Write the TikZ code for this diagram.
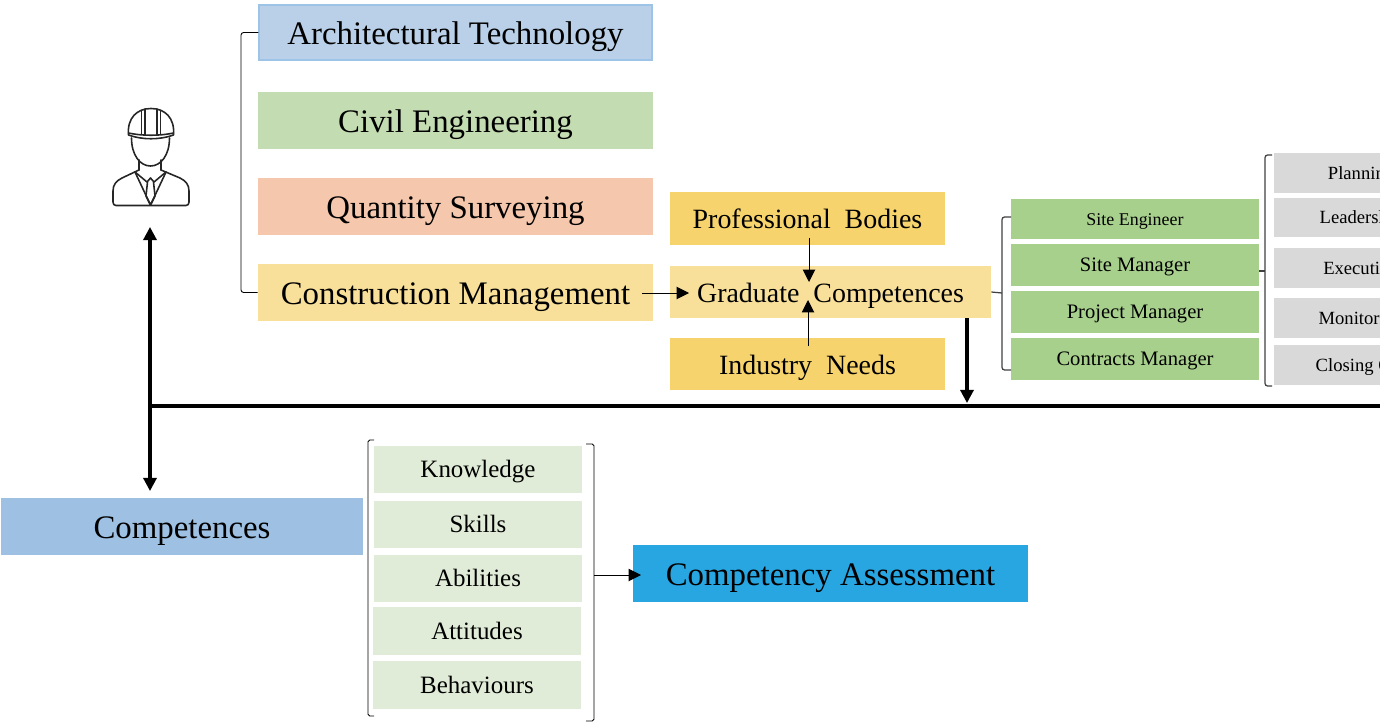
\documentclass[tikz,border=0pt]{standalone}
\usepackage{fontspec}
\setmainfont{Liberation Serif}
\usetikzlibrary{arrows.meta}
\definecolor{cablue}{HTML}{B9D0E8}
\definecolor{caborder}{HTML}{9DC3E6}
\definecolor{cagreen}{HTML}{C3DCB1}
\definecolor{casalmon}{HTML}{F5C7AC}
\definecolor{cacream}{HTML}{F8E09B}
\definecolor{cagold}{HTML}{F6D36C}
\definecolor{carole}{HTML}{A8D08D}
\definecolor{cagrey}{HTML}{D9D9D9}
\definecolor{casteel}{HTML}{9DC0E3}
\definecolor{capale}{HTML}{E0ECD7}
\definecolor{casky}{HTML}{27A6E1}
\definecolor{caink}{HTML}{262626}
\definecolor{cabrace}{HTML}{404040}
\tikzset{
  cabox/.style={
    inner sep=0pt, text=black, text height=19.2pt, text depth=5pt,
    font=\fontsize{18.7}{22}\selectfont},
  cahead/.style={cabox, text height=15.95pt, text depth=4pt,
    font=\fontsize{15.9}{20}\selectfont},
  caitem/.style={cabox, fill=capale, minimum width=4.16cm, minimum height=0.94cm,
    text height=12.67pt, text depth=3pt, font=\fontsize{14.2}{16}\selectfont},
  carolebox/.style={cabox, fill=carole, minimum width=4.96cm,
    text height=10.24pt, text depth=2.5pt, font=\fontsize{11.7}{14}\selectfont},
  cataskbox/.style={cabox, fill=cagrey, minimum width=3.48cm,
    text height=9.55pt, text depth=2.5pt, font=\fontsize{10.6}{14}\selectfont},
  cathin/.style={-{Triangle[length=7pt,width=7pt]}, draw=black, line width=0.55pt},
  cathick/.style={-{Triangle[length=7.5pt,width=7.5pt]}, draw=black, line width=1.75pt},
  cabrack/.style={draw=black, line width=0.5pt, rounded corners=1.5pt},
  caicon/.style={draw=caink, line width=0.9pt, line cap=round, line join=round},
}
\begin{document}
\begin{tikzpicture}[x=0.02cm, y=-0.02cm]

\useasboundingbox (0, 0) rectangle (1380, 723);
\clip (0, 0) rectangle (1380, 723);

% Programmes.
\node[cabox, fill=cablue, draw=caborder, line width=0.7pt, minimum width=7.86cm,
      minimum height=1.1cm] (archtech) at (455.5, 32.5) {Architectural Technology};
\node[cabox, fill=cagreen, minimum width=7.9cm, minimum height=1.14cm]
  (civil) at (455.5, 120.5) {Civil Engineering};
\node[cabox, fill=casalmon, minimum width=7.9cm, minimum height=1.14cm]
  (quantity) at (455.5, 206.5) {Quantity Surveying};
\node[cabox, fill=cacream, minimum width=7.9cm, minimum height=1.14cm]
  (construction) at (455.5, 292.5) {Construction Management};
\coordinate (progbrack) at (241, 160);
\draw[cabrack] (archtech.west) -| (progbrack) |- (construction.west);

% Worker.
\begin{scope}[caicon]
  \draw (128.5, 135) .. controls (127, 118) and (137, 108.5) .. (151, 108.5)
    .. controls (165, 108.5) and (175, 118) .. (173.5, 135)
    .. controls (160, 140) and (142, 140) .. (128.5, 135) -- cycle;
  \draw (128.5, 133) .. controls (142, 136) and (160, 136) .. (173.5, 133);
  \draw (141.5, 111) -- (141.5, 134) (145, 109) -- (145, 135);
  \draw (157, 109) -- (157, 135) (160.5, 111) -- (160.5, 134);
  \draw (131.5, 138) .. controls (131.5, 155) and (140, 166) .. (150.5, 166)
    .. controls (161, 166) and (169.5, 155) .. (169.5, 138);
  \draw (139, 160) -- (139, 170) (161, 160) -- (161, 170);
  \draw (139, 170) -- (122, 178) .. controls (116, 181) and (113, 185) .. (113, 191)
    -- (113, 202) .. controls (113, 204) and (114, 205.5) .. (116, 205.5) -- (186, 205.5)
    .. controls (188, 205.5) and (189, 204) .. (189, 202) -- (189, 191)
    .. controls (189, 185) and (186, 181) .. (180, 178) -- (161, 170);
  \draw (135, 172) -- (150.5, 205) -- (166, 172);
  \draw (135, 172) -- (147, 182) -- (150.5, 178) -- (154, 182) -- (166, 172);
  \draw (147.5, 182) -- (146, 196) -- (150.5, 205) -- (155, 196) -- (153.5, 182);
\end{scope}

% Inputs to graduate competences.
\node[cahead, fill=cagold, minimum width=5.5cm, minimum height=1.06cm]
  (profbodies) at (807.5, 218.5) {Professional\ \ Bodies};
\node[cahead, fill=cacream, minimum width=6.42cm, minimum height=1.04cm]
  (gradcomp) at (830.5, 292) {Graduate\ \ Competences};
\node[cahead, fill=cagold, minimum width=5.5cm, minimum height=1.04cm]
  (industry) at (807.5, 364) {Industry\ \ Needs};
\coordinate (consout) at (642, 293);
\coordinate (gradin) at (689, 293);
\coordinate (profout) at (809, 238);
\coordinate (profin) at (809, 282);
\coordinate (indout) at (808, 346);
\coordinate (indin) at (808, 300);
\draw[cathin] (consout) -- (gradin);
\draw[cathin] (profout) -- (profin);
\draw[cathin] (indout) -- (indin);

% Roles.
\node[carolebox, minimum height=0.8cm, font=\fontsize{10.2}{14}\selectfont]
  (siteeng) at (1135, 219) {Site Engineer};
\node[carolebox, minimum height=0.84cm] (sitemgr) at (1135, 265) {Site Manager};
\node[carolebox, minimum height=0.84cm] (projmgr) at (1135, 312) {Project Manager};
\node[carolebox, minimum height=0.84cm] (contmgr) at (1135, 359) {Contracts Manager};
\coordinate (rolebrack) at (1002, 293);
\coordinate (roletop) at (1011, 217);
\coordinate (rolefoot) at (1011, 370);
\draw[cabrack, draw=cabrace, line width=0.7pt] (roletop) -| (rolebrack) |- (rolefoot);
\draw[draw=cabrace, line width=0.7pt] (gradcomp.east) -- (rolebrack);

% Tasks, cut off at the page edge.
\node[cataskbox, minimum height=0.8cm] (planning) at (1361, 173) {Planning};
\node[cataskbox, minimum height=0.78cm] (leadership) at (1361, 217.5) {Leadership};
\node[cataskbox, minimum height=0.8cm] (executing) at (1361, 268) {Executing};
\node[cataskbox, minimum height=0.8cm] (monitoring) at (1361, 318) {Monitoring};
\node[cataskbox, minimum height=0.8cm] (closing) at (1361, 365) {Closing Out};
\coordinate (taskbrack) at (1265, 271);
\coordinate (tasktop) at (1272, 155);
\coordinate (taskfoot) at (1272, 386);
\coordinate (rolestem) at (1259, 271);
\draw[cabrack, draw=cabrace, line width=0.7pt] (tasktop) -| (taskbrack) |- (taskfoot);
\draw[draw=cabrace, line width=0.7pt] (rolestem) -- (taskbrack);

% Main rail.
\coordinate (railwest) at (150, 406);
\coordinate (raileast) at (1380, 406);
\coordinate (gradfoot) at (967, 318);
\coordinate (railin) at (967, 403);
\coordinate (workerfoot) at (150, 227);
\coordinate (compin) at (150, 491);
\draw[line width=1.75pt] (railwest) -- (raileast);
\draw[cathick] (gradfoot) -- (railin);
\draw[cathick, {Triangle[length=7.5pt,width=7.5pt]}-{Triangle[length=7.5pt,width=7.5pt]}] (workerfoot) -- (compin);

% Competences.
\node[cabox, fill=casteel, minimum width=7.24cm, minimum height=1.14cm]
  (competences) at (182, 526.5) {Competences};
\node[caitem] (knowledge) at (478, 469.5) {Knowledge};
\node[caitem] (skills) at (478, 524.5) {Skills};
\node[caitem] (abilities) at (478, 578.5) {Abilities};
\node[caitem, minimum height=0.96cm] (attitudes) at (477, 631) {Attitudes};
\node[caitem, minimum height=0.96cm] (behaviours) at (477, 685) {Behaviours};
\coordinate (itemleft) at (368, 578);
\coordinate (itemright) at (594, 582);
\coordinate (lefttop) at (374, 440);
\coordinate (leftfoot) at (374, 716);
\coordinate (righttop) at (586, 444);
\coordinate (rightfoot) at (586, 721);
\draw[cabrack, rounded corners=1pt] (lefttop) -| (itemleft) |- (leftfoot);
\draw[cabrack, rounded corners=1pt] (righttop) -| (itemright) |- (rightfoot);

% Assessment.
\node[cabox, fill=casky, minimum width=7.9cm, minimum height=1.14cm]
  (assessment) at (830.5, 573.5) {Competency Assessment};
\coordinate (assessin) at (641, 575);
\draw[cathin] (itemright |- assessin) -- (assessin);

\end{tikzpicture}
\end{document}
